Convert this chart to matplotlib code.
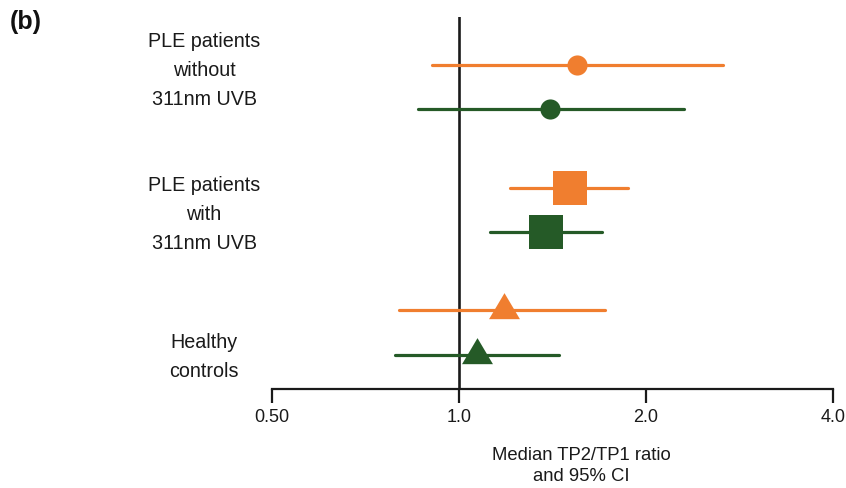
import numpy as np
import matplotlib
matplotlib.use("Agg")
import matplotlib.pyplot as plt
from matplotlib.path import Path
from matplotlib.transforms import blended_transform_factory

plt.rcParams['font.family'] = ['Liberation Sans', 'DejaVu Sans']

# Median TP2/TP1 ratio with 95% CI, per group (first series orange, second green)
groups = ["PLE patients\nwithout\n311nm UVB", "PLE patients\nwith\n311nm UVB", "Healthy\ncontrols"]
orange_median = [1.55, 1.51, 1.18]
orange_lower = [0.905, 1.21, 0.80]
orange_upper = [2.66, 1.87, 1.72]
green_median = [1.40, 1.38, 1.07]
green_lower = [0.86, 1.12, 0.79]
green_upper = [2.30, 1.70, 1.45]
tick_values = [0.5, 1.0, 2.0, 4.0]
tick_labels = ["0.50", "1.0", "2.0", "4.0"]

ORANGE = "#F07E2F"
GREEN = "#255A27"

# triangle with its centroid at the origin
tri = Path([(0, 1), (-0.89, -0.5), (0.89, -0.5), (0, 1)],
           [Path.MOVETO, Path.LINETO, Path.LINETO, Path.CLOSEPOLY])
markers = ['o', 's', tri]
sizes = [14.5, 24.5, 25]

fig = plt.figure(figsize=(8.46, 4.89), dpi=100)
ax = fig.add_axes([272 / 846, 1 - 390 / 489, (833 - 272) / 846, (390 - 18) / 489])
ax.set_xscale('log', base=2)
ax.set_xlim(0.5, 4.0)
ax.set_ylim(2.46, -0.57)

offset = 0.18
for i in range(len(groups)):
    for med, lo, hi, col, dy in [
        (orange_median[i], orange_lower[i], orange_upper[i], ORANGE, -offset),
        (green_median[i], green_lower[i], green_upper[i], GREEN, offset),
    ]:
        y = i + dy
        ax.plot([lo, hi], [y, y], color=col, lw=2.3, solid_capstyle='round', zorder=2)
        ax.plot([med], [y], marker=markers[i], ms=sizes[i], color=col,
                markeredgewidth=0, linestyle='none', zorder=3)

# reference line at ratio 1
ax.axvline(1.0, color='#1a1a1a', lw=1.9, zorder=1)

for s in ['top', 'right', 'left']:
    ax.spines[s].set_visible(False)
ax.spines['bottom'].set_linewidth(1.6)
ax.spines['bottom'].set_color('#1a1a1a')
ax.set_yticks([])
ax.set_xticks(tick_values)
ax.set_xticklabels(tick_labels)
ax.xaxis.set_minor_locator(matplotlib.ticker.NullLocator())
ax.tick_params(axis='x', direction='out', length=10, width=1.6, color='#1a1a1a',
               labelsize=13, pad=4, labelcolor='#1a1a1a')

# group labels on the left
label_y = [-0.145, 1.03, 2.19]
trans = blended_transform_factory(fig.transFigure, ax.transData)
for g, ly in zip(groups, label_y):
    ax.text(204 / 846, ly, g, transform=trans, ha='center', va='center',
            fontsize=14.2, linespacing=1.67, color='#1a1a1a')

fig.text(581 / 846, 1 - 466 / 489, "Median TP2/TP1 ratio\nand 95% CI", ha='center', va='center',
         fontsize=13.3, linespacing=1.3, color='#1a1a1a')
fig.text(10 / 846, 1 - 22 / 489, "(b)", ha='left', va='center', fontsize=18,
         fontweight='bold', color='#111111')

fig.savefig("out.png", dpi=100)
